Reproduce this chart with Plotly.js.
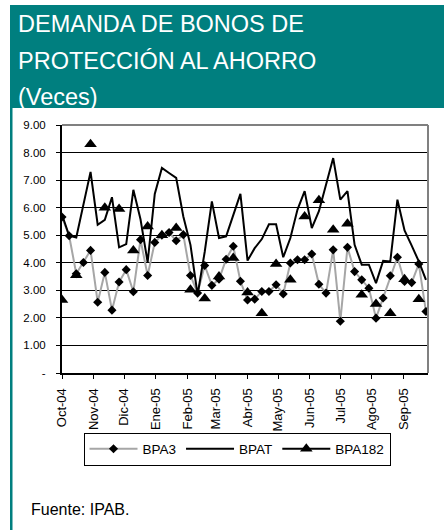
<!DOCTYPE html>
<html>
<head>
<meta charset="utf-8">
<script src="https://cdn.plot.ly/plotly-3.0.1.min.js"></script>
<style>
html, body { margin: 0; padding: 0; background: #ffffff; }
#chart { width: 444px; height: 530px; }
</style>
</head>
<body>
<div id="chart"></div>
<script>
// ---- data ----
const dates = [
  '2004-10-01','2004-10-08','2004-10-15','2004-10-22','2004-10-29',
  '2004-11-05','2004-11-12','2004-11-19','2004-11-26',
  '2004-12-03','2004-12-10','2004-12-17','2004-12-24','2004-12-31',
  '2005-01-07','2005-01-14','2005-01-21','2005-01-28',
  '2005-02-04','2005-02-11','2005-02-18','2005-02-25',
  '2005-03-04','2005-03-11','2005-03-18','2005-03-25',
  '2005-04-01','2005-04-08','2005-04-15','2005-04-22','2005-04-29',
  '2005-05-06','2005-05-13','2005-05-20','2005-05-27',
  '2005-06-03','2005-06-10','2005-06-17','2005-06-24',
  '2005-07-01','2005-07-08','2005-07-15','2005-07-22','2005-07-29',
  '2005-08-05','2005-08-12','2005-08-19','2005-08-26',
  '2005-09-02','2005-09-09','2005-09-16','2005-09-23'
];
const bpa3 = [
  5.66, 4.98, 3.60, 4.01, 4.45, 2.57, 3.65, 2.28, 3.30, 3.75,
  2.95, 4.84, 3.54, 4.74, 5.00, 5.10, 4.80, 5.02, 3.54, 2.90,
  3.90, 3.18, 3.40, 4.13, 4.60, 3.33, 2.65, 2.68, 2.96, 2.96,
  3.20, 2.87, 3.99, 4.11, 4.11, 4.32, 3.22, 2.90, 4.47, 1.88,
  4.56, 3.68, 3.38, 3.08, 1.99, 2.72, 3.53, 4.20, 3.32, 3.28,
  3.96, 2.23
];
const bpat = [
  5.75, 4.98, 4.92, 6.10, 7.30, 5.38, 5.56, 6.38, 4.56, 4.68,
  6.65, 5.58, 4.02, 6.50, 7.44, 7.26, 7.08, 5.68, 4.65, 2.84,
  4.40, 6.23, 4.90, 4.96, 5.75, 6.50, 4.08, 4.53, 4.86, 5.40,
  5.40, 4.20, 4.90, 5.93, 6.60, 5.26, 5.87, 6.84, 7.80, 6.29,
  6.60, 4.65, 3.93, 3.93, 3.26, 4.07, 4.05, 6.29, 5.17, 4.62,
  4.05, 3.38
];
const bpa182 = [
  2.65, null, 3.55, null, 8.30, null, 6.00, null, 5.95, null,
  4.45, null, 5.32, null, 5.00, null, 5.26, null, 3.02, null,
  2.70, null, 3.50, null, 4.17, null, 2.92, null, 2.17, null,
  3.96, null, 3.38, null, 5.68, null, 6.27, null, 5.20, null,
  5.42, null, 2.84, null, 2.50, null, 2.17, null, 3.40, null,
  2.68, null
];
const monthTicks = ['2004-10-01','2004-11-01','2004-12-01','2005-01-01','2005-02-01','2005-03-01',
                    '2005-04-01','2005-05-01','2005-06-01','2005-07-01','2005-08-01','2005-09-01'];
const monthLabels = ['Oct-04','Nov-04','Dic-04','Ene-05','Feb-05','Mar-05',
                     'Abr-05','May-05','Jun-05','Jul-05','Ago-05','Sep-05'];
const yTicks = [0,1,2,3,4,5,6,7,8,9];
const yLabels = ['-','1.00','2.00','3.00','4.00','5.00','6.00','7.00','8.00','9.00'];
const titleLines = ['DEMANDA DE BONOS DE', 'PROTECCIÓN AL AHORRO', '(Veces)'];
const sourceNote = 'Fuente: IPAB.';

// ---- layout helpers (pixel -> paper) ----
const W = 444, H = 530;
const L = 62, R = 428, T = 125, B = 373;
const px = v => (v - L) / (R - L);
const py = v => (B - v) / (B - T);
const FONT = 'Arial, "Liberation Sans", sans-serif';
const TEAL = '#007f7f';

const traces = [
  { x: dates, y: bpa3, name: 'BPA3', type: 'scatter', mode: 'lines+markers',
    line: { color: '#a6a6a6', width: 2 },
    marker: { symbol: 'diamond', size: 7, color: '#000000' } },
  { x: dates, y: bpat, name: 'BPAT', type: 'scatter', mode: 'lines',
    line: { color: '#000000', width: 2 } },
  { x: dates, y: bpa182, name: 'BPA182', type: 'scatter', mode: 'lines+markers',
    connectgaps: false,
    line: { color: '#000000', width: 2 },
    marker: { symbol: 'triangle-up', size: 11, color: '#000000' } }
];

const titleY = [24, 61, 97];
const annotations = titleLines.map((t, i) => ({
  text: t, xref: 'paper', yref: 'paper', x: px(16), y: py(titleY[i]),
  xanchor: 'left', yanchor: 'middle', showarrow: false,
  font: { family: FONT, size: 23.5, color: '#ffffff' }
}));
annotations.push({
  text: sourceNote, xref: 'paper', yref: 'paper', x: px(29), y: py(509),
  xanchor: 'left', yanchor: 'middle', showarrow: false,
  font: { family: FONT, size: 16, color: '#000000' }
});

const shapes = [
  // teal title band
  { type: 'rect', xref: 'paper', yref: 'paper', x0: px(10), x1: px(446), y0: py(108), y1: py(5),
    fillcolor: TEAL, line: { width: 0 }, layer: 'below' },
  // teal left border
  { type: 'rect', xref: 'paper', yref: 'paper', x0: px(10), x1: px(12.5), y0: py(532), y1: py(108),
    fillcolor: TEAL, line: { width: 0 }, layer: 'below' },
  // gray plot border top & right
  { type: 'line', xref: 'paper', yref: 'paper', x0: 0, x1: 1, y0: 1, y1: 1,
    line: { color: '#808080', width: 2 }, layer: 'above' },
  { type: 'line', xref: 'paper', yref: 'paper', x0: 1, x1: 1, y0: 0, y1: 1,
    line: { color: '#808080', width: 2 }, layer: 'above' }
];

const layout = {
  width: W, height: H,
  margin: { l: L, r: W - R, t: T, b: H - B, pad: 0 },
  paper_bgcolor: '#ffffff', plot_bgcolor: '#ffffff',
  font: { family: FONT, color: '#000000' },
  showlegend: true,
  legend: {
    orientation: 'h', x: px(237), y: py(449), xanchor: 'center', yanchor: 'middle',
    bordercolor: '#000000', borderwidth: 1, bgcolor: '#ffffff',
    font: { family: FONT, size: 13.5, color: '#000000' },
    itemwidth: 48, traceorder: 'normal'
  },
  xaxis: {
    type: 'date', range: ['2004-10-01', '2005-09-25'],
    tickmode: 'array', tickvals: monthTicks, ticktext: monthLabels,
    tickangle: -90, ticks: 'outside', ticklen: 4, tickcolor: '#000000', tickwidth: 1,
    tickfont: { family: FONT, size: 13, color: '#000000' },
    showgrid: false, zeroline: false,
    showline: true, linecolor: '#000000', linewidth: 2,
    ticklabelstandoff: 4, fixedrange: true
  },
  yaxis: {
    range: [0, 9], tickmode: 'array', tickvals: yTicks, ticktext: yLabels,
    ticks: 'outside', ticklen: 4, tickcolor: '#000000', tickwidth: 1,
    tickfont: { family: FONT, size: 11.5, color: '#000000' },
    showgrid: true, gridcolor: '#000000', gridwidth: 1,
    zeroline: false, showline: true, linecolor: '#000000', linewidth: 2,
    ticklabelstandoff: 8, fixedrange: true
  },
  annotations: annotations,
  shapes: shapes
};

Plotly.newPlot('chart', traces, layout, { displayModeBar: false, staticPlot: true });
</script>
</body>
</html>
